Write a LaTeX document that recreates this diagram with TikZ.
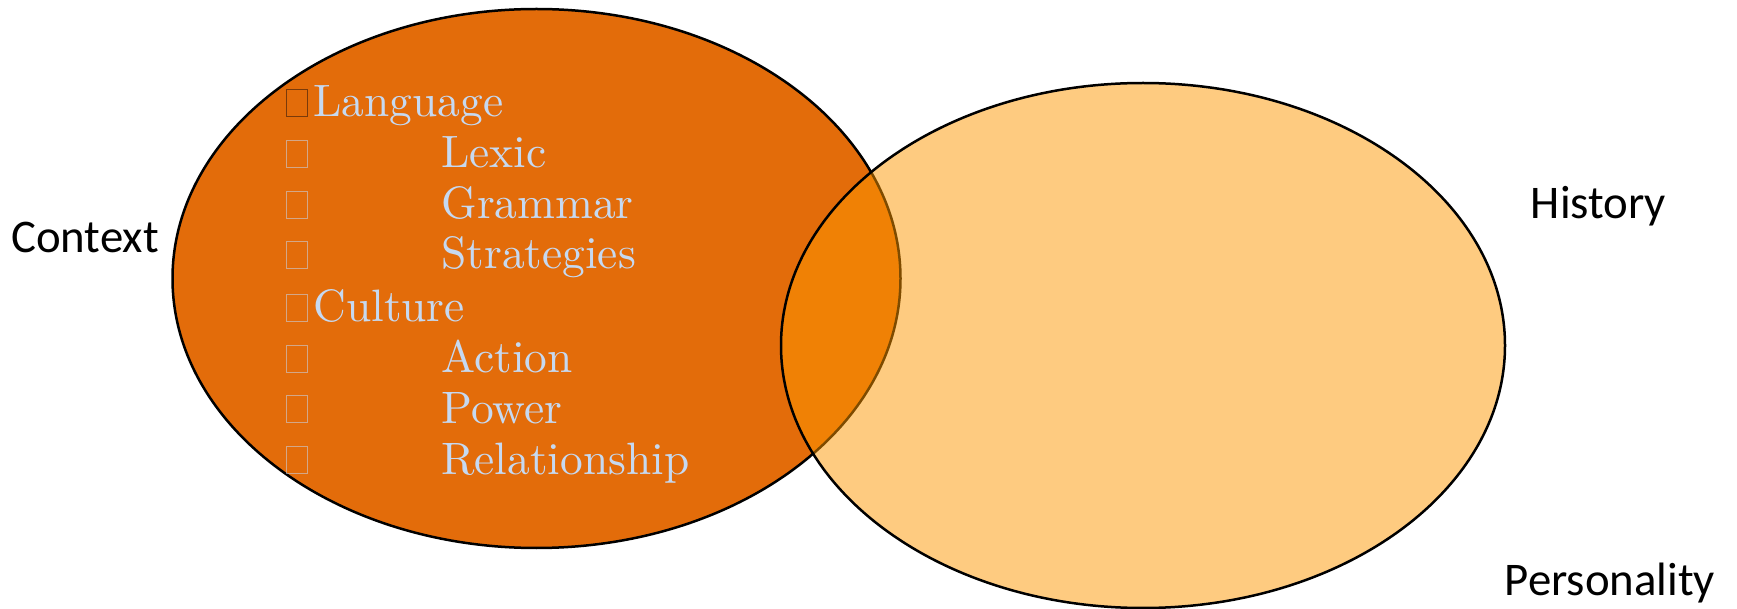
\documentclass[tikz,border=0pt]{standalone}
\usepackage{fontspec}
\newfontfamily\labelfont{Carlito}
\newfontfamily\listfont{lmroman10-regular.otf}
\definecolor{ctxorange}{RGB}{227,108,10}
\definecolor{historange}{RGB}{253,151,1}
\definecolor{itemblue}{RGB}{198,217,241}
\definecolor{boxdark}{RGB}{122,58,10}
\begin{document}
\begin{tikzpicture}[x=0.5pt,y=-0.5pt,
  outerlabel/.style={font=\labelfont\fontsize{23.4}{28}\selectfont, text=black, inner sep=0pt, anchor=base},
  listitem/.style={font=\listfont\fontsize{22.7}{26}\selectfont, text=itemblue, inner sep=0pt, anchor=base west},
  glyphbox/.style={draw=itemblue, draw opacity=0.55, line width=0.6pt, minimum width=10.5pt, minimum height=13.5pt, inner sep=0pt, anchor=south west},
  glyphboxdark/.style={glyphbox, draw=boxdark, draw opacity=1}]
\useasboundingbox (0,0) rectangle (1737,609);

% the two overlapping sets
\fill[ctxorange] (536.5,278.5) ellipse [x radius=364, y radius=269.5];
\draw[line width=1.25pt] (536.5,278.5) ellipse [x radius=364, y radius=269.5];
\fill[historange, fill opacity=0.5] (1143,345.5) ellipse [x radius=362, y radius=262.5];
\draw[line width=1.25pt] (1143,345.5) ellipse [x radius=362, y radius=262.5];

% outer labels
\node[outerlabel] (context) at (85,253) {Context};
\node[outerlabel] (history) at (1598.5,219) {History};
\node[outerlabel] (personality) at (1610,596) {Personality};

% bullet list inside the context set
\node[glyphboxdark] (b1) at (285.5,117) {};
\node[listitem] (language) at (313,117) {Language};
\node[glyphbox] (b2) at (285.5,168) {};
\node[listitem] (lexic) at (441,168) {Lexic};
\node[glyphbox] (b3) at (285.5,219) {};
\node[listitem] (grammar) at (441,219) {Grammar};
\node[glyphbox] (b4) at (285.5,269) {};
\node[listitem] (strategies) at (441,269) {Strategies};
\node[glyphbox] (b5) at (285.5,322) {};
\node[listitem] (culture) at (313,322) {Culture};
\node[glyphbox] (b6) at (285.5,373) {};
\node[listitem] (action) at (441,373) {Action};
\node[glyphbox] (b7) at (285.5,423) {};
\node[listitem] (power) at (441,423) {Power};
\node[glyphbox] (b8) at (285.5,474) {};
\node[listitem] (relationship) at (441,474) {Relationship};
\end{tikzpicture}
\end{document}
